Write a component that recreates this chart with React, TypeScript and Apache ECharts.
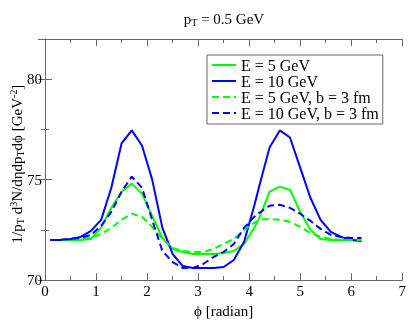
import React, { useEffect, useRef } from "react";
import * as echarts from "echarts";

const phi = [0.1, 0.3, 0.5, 0.7, 0.9, 1.1, 1.3, 1.5, 1.7, 1.9, 2.1, 2.3, 2.5, 2.7, 2.9, 3.1, 3.3, 3.5, 3.7, 3.9, 4.1, 4.2, 4.4, 4.6, 4.8, 5.0, 5.2, 5.4, 5.6, 5.8, 6.0, 6.2];

const e5 = [72.0, 72.0, 72.0, 72.0, 72.05, 72.6, 73.6, 74.4, 74.8, 74.3, 73.2, 72.1, 71.55, 71.4, 71.3, 71.3, 71.3, 71.35, 71.45, 71.8, 72.6, 73.1, 74.4, 74.65, 74.5, 73.4, 72.5, 72.05, 72.0, 72.0, 72.0, 72.0];
const e10 = [72.0, 72.0, 72.05, 72.15, 72.45, 73.0, 74.6, 76.8, 77.45, 76.7, 75.0, 72.6, 71.3, 70.7, 70.6, 70.6, 70.6, 70.65, 71.0, 71.9, 73.7, 74.7, 76.6, 77.45, 77.1, 75.6, 74.1, 73.0, 72.4, 72.15, 72.0, 71.95];
const e5b3 = [72.0, 72.0, 72.0, 72.05, 72.1, 72.3, 72.6, 73.0, 73.3, 73.15, 72.65, 72.05, 71.6, 71.45, 71.4, 71.4, 71.55, 71.8, 72.05, 72.5, 72.85, 73.0, 73.05, 73.0, 72.9, 72.65, 72.35, 72.15, 72.05, 72.0, 72.0, 72.0];
const e10b3 = [72.0, 72.0, 72.05, 72.1, 72.25, 72.7, 73.4, 74.4, 75.15, 74.6, 73.0, 71.45, 70.9, 70.6, 70.6, 70.8, 71.15, 71.4, 71.8, 72.6, 73.15, 73.35, 73.7, 73.75, 73.6, 73.3, 72.95, 72.55, 72.25, 72.15, 72.1, 72.1];

const seriesNames = ["E = 5 GeV", "E = 10 GeV", "E = 5 GeV, b = 3 fm", "E = 10 GeV, b = 3 fm"];
const seriesValues = [e5, e10, e5b3, e10b3];
const seriesColors = ["#00ff00", "#0000ff", "#00ff00", "#0000ff"];
const seriesDashed = [false, false, true, true];

const FONT = "'Liberation Serif', 'DejaVu Serif', serif";
const AXIS_COLOR = "#666";

export default function App() {
  const ref = useRef<HTMLDivElement>(null);
  useEffect(() => {
    if (!ref.current) return;
    const chart = echarts.init(ref.current, null, { renderer: "svg" });
    const tickCommon = {
      axisLine: { show: true, lineStyle: { color: AXIS_COLOR, width: 1 } },
      axisTick: { show: true, inside: true, length: 7, lineStyle: { color: AXIS_COLOR } },
      minorTick: { show: true, splitNumber: 2, length: 4, lineStyle: { color: AXIS_COLOR } },
      splitLine: { show: false },
      minorSplitLine: { show: false },
    };
    const sub = { fontFamily: FONT, fontSize: 10, color: "#000", padding: [7, 0, 0, 0] };
    const sup = { fontFamily: FONT, fontSize: 10, color: "#000", padding: [0, 0, 7, 0] };
    const base = { fontFamily: FONT, fontSize: 15, color: "#000" };
    chart.setOption({
      animation: false,
      grid: { left: 45, right: 5, top: 39, bottom: 33 },
      xAxis: [
        {
          type: "value", min: 0, max: 7, interval: 1,
          ...tickCommon,
          axisLabel: { show: true, fontFamily: FONT, fontSize: 15, color: "#000", margin: 3 },
          name: "ϕ [radian]", nameLocation: "middle", nameGap: 18,
          nameTextStyle: { fontFamily: FONT, fontSize: 15, color: "#000" },
        },
        {
          type: "value", min: 0, max: 7, interval: 1, position: "top",
          ...tickCommon,
          axisLabel: { show: false },
        },
      ],
      yAxis: [
        {
          type: "value", min: 70, max: 82, interval: 5,
          ...tickCommon,
          axisLabel: { show: true, fontFamily: FONT, fontSize: 15, color: "#000", margin: 3, showMaxLabel: false },
        },
        {
          type: "value", min: 70, max: 82, interval: 5, position: "right",
          ...tickCommon,
          axisLabel: { show: false },
        },
      ],
      legend: {
        show: true,
        orient: "vertical",
        left: 207,
        top: 55,
        width: 177,
        padding: [2, 4, 3, 4],
        itemGap: 0,
        itemWidth: 24,
        itemHeight: 16,
        borderColor: AXIS_COLOR,
        borderWidth: 1,
        backgroundColor: "#fff",
        itemStyle: { opacity: 0 },
        textStyle: { fontFamily: FONT, fontSize: 16, color: "#000", padding: [0, 0, 0, 0] },
        data: seriesNames,
      },
      graphic: [
        {
          type: "text",
          x: 224,
          y: 19,
          style: {
            text: "{a|p}{s|T}{a| = 0.5 GeV}",
            align: "center",
            verticalAlign: "middle",
            rich: { a: base, s: sub },
          },
        },
        {
          type: "text",
          x: 17,
          y: 164,
          rotation: Math.PI / 2,
          style: {
            text: "{a|1/p}{s|T}{a| d}{p|3}{a|N/dηdp}{s|T}{a|dϕ [GeV}{p|-2}{a|]}",
            align: "center",
            verticalAlign: "middle",
            rich: { a: base, s: sub, p: sup },
          },
        },
      ],
      series: seriesNames.map((name, k) => ({
        name,
        type: "line",
        xAxisIndex: 0,
        yAxisIndex: 0,
        symbol: "none",
        showSymbol: false,
        smooth: false,
        color: seriesColors[k],
        lineStyle: { color: seriesColors[k], width: 2, type: seriesDashed[k] ? [7, 4] : "solid" },
        data: phi.map((p, i) => [p, seriesValues[k][i]]),
      })),
    });
    return () => chart.dispose();
  }, []);
  return <div ref={ref} style={{ position: "fixed", left: 0, top: 0, width: 409, height: 323 }} />;
}
